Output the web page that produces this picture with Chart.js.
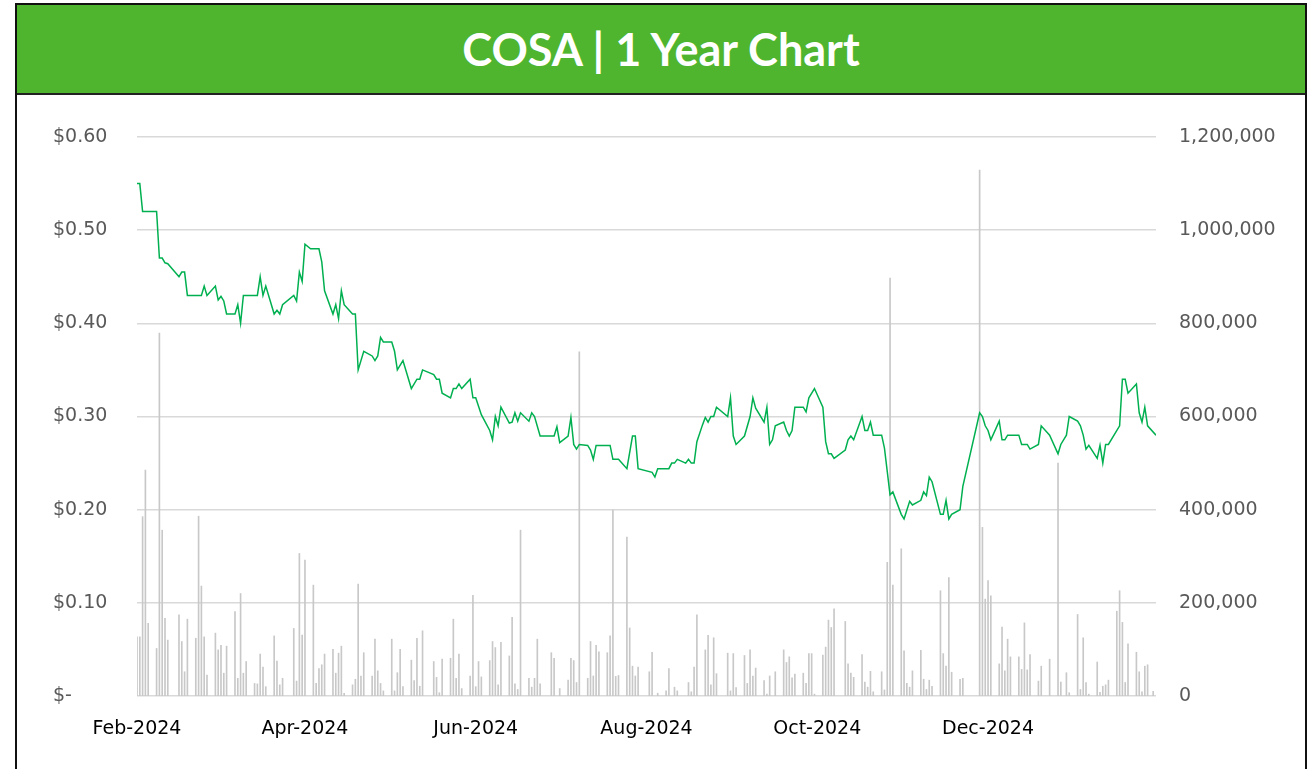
<!DOCTYPE html>
<html>
<head>
<meta charset="utf-8">
<script src="https://cdn.jsdelivr.net/npm/chart.js@4.4.1/dist/chart.umd.min.js"></script>
<style>
  html, body { margin: 0; padding: 0; background: #fff; }
  #wrap { position: relative; width: 1312px; height: 769px; overflow: hidden; }
  #chart { position: absolute; left: 0; top: 0; }
  #frame {
    position: absolute; left: 15px; top: 3px; width: 1292px; height: 800px;
    box-sizing: border-box; border: 2px solid #111; pointer-events: none;
  }
  #header {
    height: 90px; box-sizing: border-box; background: #4fb52e;
    border-bottom: 2px solid #222; color: #fff;
    font-family: Lato, "Noto Sans", sans-serif; font-weight: 700; font-size: 45px;
    line-height: 88px; text-align: center;
  }
</style>
</head>
<body>
<div id="wrap">
  <canvas id="chart" width="1312" height="769"></canvas>
  <div id="frame"><div id="header">COSA | 1 Year Chart</div></div>
</div>
<script>
  // day offsets are counted from 1 Feb 2024
  const xTickLabels = ['Feb-2024', 'Apr-2024', 'Jun-2024', 'Aug-2024', 'Oct-2024', 'Dec-2024'];

  // closing price, read at the turning points of the line
  const priceDays = [
    0, 1, 2, 7, 8, 9, 10, 11, 15, 16, 17, 18, 23, 24, 25, 28, 29, 30, 31, 32,
    35, 36, 37, 38, 43, 44, 45, 46, 49, 50, 51, 52, 56, 57, 58, 59, 60, 62, 65, 66,
    67, 70, 71, 72, 73, 74, 77, 78, 79, 81, 84, 85, 86, 87, 88, 91, 92, 93, 95, 98,
    100, 101, 102, 106, 107, 108, 109, 112, 113, 114, 115, 116, 119, 120, 121, 123, 126, 127, 128, 129,
    130, 133, 134, 135, 136, 137, 140, 141, 142, 144, 149, 150, 151, 154, 155, 156, 157, 158, 161, 162,
    163, 164, 169, 170, 172, 175, 177, 178, 179, 184, 185, 186, 190, 191, 192, 193, 196, 197, 198, 199,
    200, 202, 203, 204, 205, 206, 207, 211, 212, 213, 214, 217, 219, 220, 221, 224, 225, 226, 227, 228,
    231, 232, 233, 234, 235, 238, 239, 240, 242, 245, 246, 247, 248, 249, 253, 254, 255, 256, 259, 260,
    261, 262, 263, 266, 267, 269, 270, 273, 274, 276, 277, 280, 281, 282, 283, 284, 287, 288, 289, 290,
    291, 294, 295, 301, 302, 303, 304, 305, 308, 309, 310, 311, 315, 316, 318, 319, 322, 323, 326, 329,
    330, 332, 333, 336, 337, 338, 339, 340, 343, 344, 345, 346, 347, 351, 352, 353, 354, 357, 358, 359,
    360, 361, 364
  ];
  const priceValues = [
    0.550, 0.550, 0.520, 0.520, 0.470, 0.470, 0.465, 0.464, 0.450, 0.455, 0.455, 0.430, 0.430, 0.440, 0.430, 0.440, 0.425, 0.429, 0.424, 0.410,
    0.410, 0.420, 0.400, 0.430, 0.430, 0.450, 0.430, 0.440, 0.410, 0.414, 0.410, 0.420, 0.430, 0.424, 0.455, 0.445, 0.485, 0.480, 0.480, 0.466,
    0.435, 0.410, 0.420, 0.405, 0.435, 0.420, 0.410, 0.410, 0.350, 0.370, 0.365, 0.360, 0.365, 0.385, 0.380, 0.380, 0.370, 0.350, 0.360, 0.330,
    0.340, 0.340, 0.350, 0.345, 0.340, 0.340, 0.325, 0.320, 0.330, 0.330, 0.335, 0.330, 0.340, 0.320, 0.320, 0.302, 0.285, 0.275, 0.300, 0.290,
    0.310, 0.293, 0.294, 0.304, 0.295, 0.304, 0.295, 0.304, 0.300, 0.279, 0.279, 0.289, 0.272, 0.279, 0.299, 0.270, 0.265, 0.270, 0.269, 0.264,
    0.254, 0.269, 0.269, 0.254, 0.254, 0.244, 0.279, 0.279, 0.244, 0.240, 0.235, 0.244, 0.244, 0.250, 0.250, 0.254, 0.250, 0.254, 0.250, 0.250,
    0.273, 0.291, 0.299, 0.294, 0.300, 0.300, 0.310, 0.300, 0.320, 0.279, 0.270, 0.279, 0.300, 0.320, 0.309, 0.294, 0.310, 0.270, 0.275, 0.290,
    0.294, 0.285, 0.279, 0.285, 0.310, 0.310, 0.305, 0.320, 0.330, 0.310, 0.273, 0.260, 0.260, 0.255, 0.264, 0.275, 0.279, 0.275, 0.300, 0.285,
    0.285, 0.294, 0.280, 0.280, 0.266, 0.216, 0.219, 0.195, 0.190, 0.209, 0.205, 0.210, 0.219, 0.215, 0.235, 0.230, 0.195, 0.195, 0.210, 0.190,
    0.195, 0.200, 0.225, 0.304, 0.300, 0.290, 0.285, 0.275, 0.295, 0.275, 0.275, 0.280, 0.280, 0.270, 0.270, 0.265, 0.270, 0.290, 0.280, 0.260,
    0.270, 0.280, 0.300, 0.295, 0.290, 0.280, 0.265, 0.269, 0.255, 0.269, 0.250, 0.270, 0.270, 0.290, 0.340, 0.340, 0.325, 0.335, 0.304, 0.294,
    0.310, 0.290, 0.280
  ];

  // daily volume (shares)
  const volumeDays = [
    0, 1, 2, 3, 4, 7, 8, 9, 10, 11, 15, 16, 17, 18, 21, 22, 23, 24, 25, 28,
    29, 30, 31, 32, 35, 36, 37, 38, 39, 42, 43, 44, 45, 46, 49, 50, 51, 52, 56, 57,
    58, 59, 60, 63, 64, 65, 66, 67, 70, 71, 72, 73, 74, 77, 78, 79, 80, 81, 84, 85,
    86, 87, 88, 91, 92, 93, 94, 95, 98, 99, 100, 101, 102, 106, 107, 108, 109, 112, 113, 114,
    115, 116, 119, 120, 121, 122, 123, 126, 127, 128, 129, 130, 133, 134, 135, 136, 137, 140, 141, 142,
    143, 144, 148, 149, 151, 154, 155, 156, 157, 158, 161, 162, 163, 164, 165, 168, 169, 170, 171, 172,
    175, 176, 177, 178, 179, 183, 184, 186, 189, 190, 192, 193, 197, 198, 199, 200, 203, 204, 205, 206,
    207, 211, 212, 213, 214, 217, 218, 219, 220, 221, 224, 225, 226, 228, 231, 232, 233, 234, 235, 238,
    239, 240, 241, 242, 245, 246, 247, 248, 249, 253, 254, 255, 256, 259, 260, 261, 262, 263, 266, 267,
    268, 269, 270, 273, 274, 275, 276, 277, 280, 281, 282, 283, 284, 287, 288, 289, 290, 291, 294, 295,
    301, 302, 303, 304, 305, 308, 309, 310, 311, 312, 315, 316, 317, 318, 319, 322, 323, 326, 329, 330,
    332, 333, 336, 337, 338, 339, 340, 343, 344, 345, 346, 347, 350, 351, 352, 353, 354, 357, 358, 359,
    360, 361, 363
  ];
  const volumeValues = [
    127000, 127000, 385000, 485000, 156000, 102000, 779000, 356000, 167000, 120000, 174000, 117000, 52000, 165000, 124000, 386000, 236000, 127000, 45000, 135000,
    99000, 109000, 49000, 107000, 181000, 38000, 220000, 49000, 74000, 27000, 26000, 90000, 62000, 20000, 129000, 75000, 24000, 38000, 145000, 32000,
    306000, 131000, 292000, 238000, 27000, 59000, 67000, 90000, 100000, 49000, 92000, 107000, 6000, 24000, 36000, 240000, 43000, 93000, 43000, 122000,
    54000, 27000, 11000, 122000, 11000, 50000, 100000, 20000, 77000, 33000, 124000, 21000, 140000, 74000, 40000, 7000, 79000, 81000, 165000, 38000,
    90000, 16000, 43000, 216000, 20000, 74000, 41000, 76000, 117000, 104000, 24000, 115000, 86000, 169000, 26000, 14000, 356000, 38000, 19000, 38000,
    122000, 26000, 93000, 81000, 16000, 34000, 81000, 76000, 29000, 739000, 38000, 117000, 43000, 109000, 95000, 93000, 129000, 399000, 42000, 44000,
    341000, 146000, 64000, 43000, 62000, 52000, 94000, 6000, 11000, 59000, 19000, 11000, 29000, 9000, 62000, 174000, 99000, 130000, 24000, 125000,
    48000, 92000, 11000, 91000, 18000, 87000, 27000, 99000, 43000, 60000, 33000, 4000, 43000, 52000, 99000, 72000, 84000, 39000, 47000, 49000,
    27000, 91000, 91000, 4000, 88000, 105000, 163000, 147000, 187000, 160000, 69000, 49000, 40000, 89000, 30000, 19000, 53000, 9000, 52000, 13000,
    287000, 897000, 238000, 316000, 97000, 27000, 19000, 54000, 98000, 36000, 14000, 34000, 21000, 226000, 91000, 64000, 254000, 51000, 36000, 38000,
    1129000, 362000, 208000, 248000, 215000, 69000, 148000, 54000, 122000, 84000, 84000, 57000, 157000, 56000, 89000, 32000, 64000, 79000, 500000, 30000,
    50000, 7000, 175000, 14000, 125000, 29000, 4000, 73000, 8000, 21000, 24000, 34000, 182000, 226000, 158000, 29000, 112000, 94000, 52000, 9000,
    64000, 67000, 10000
  ];

  const dayZero = new Date(2024, 1, 1);
  const xTickDays = xTickLabels.map(function (lbl) {
    const months = { Feb: 1, Apr: 3, Jun: 5, Aug: 7, Oct: 9, Dec: 11 };
    const d = new Date(+lbl.slice(4), months[lbl.slice(0, 3)], 1);
    return Math.round((d - dayZero) / 864e5);
  });

  const tickFont = { family: '"DejaVu Sans", sans-serif', size: 19 };

  new Chart(document.getElementById('chart'), {
    data: {
      datasets: [
        {
          type: 'line',
          label: 'Price',
          data: priceDays.map((d, i) => ({ x: d, y: priceValues[i] })),
          yAxisID: 'y',
          borderColor: '#00b050',
          borderWidth: 1.5,
          pointRadius: 0,
          tension: 0,
          order: 0
        },
        {
          type: 'bar',
          label: 'Volume',
          data: volumeDays.map((d, i) => ({ x: d, y: volumeValues[i] })),
          yAxisID: 'y1',
          backgroundColor: '#c8c8c8',
          barThickness: 1,
          order: 1
        }
      ]
    },
    options: {
      responsive: false,
      animation: false,
      devicePixelRatio: 1,
      layout: { padding: { left: 53, top: 137, right: 0, bottom: 0 } },
      plugins: { legend: { display: false }, tooltip: { enabled: false }, title: { display: false } },
      scales: {
        x: {
          type: 'linear',
          min: 0,
          max: 364,
          offset: false,
          grid: { display: false, drawTicks: false },
          border: { display: false },
          afterBuildTicks: function (scale) {
            scale.ticks = xTickDays.map(v => ({ value: v }));
          },
          afterFit: function (scale) { scale.height = 73; },
          ticks: {
            autoSkip: false,
            maxRotation: 0,
            padding: 22,
            color: '#000',
            font: tickFont,
            callback: function (value, index) { return xTickLabels[index]; }
          }
        },
        y: {
          position: 'left',
          min: 0,
          max: 0.6,
          grid: { color: '#d9d9d9', lineWidth: 1.5, drawTicks: false },
          border: { display: false },
          afterFit: function (scale) { scale.width = 84; },
          ticks: {
            stepSize: 0.1,
            crossAlign: 'far',
            color: '#595959',
            font: tickFont,
            callback: function (v) { return v === 0 ? '$-' : '$' + v.toFixed(2); }
          }
        },
        y1: {
          position: 'right',
          min: 0,
          max: 1200000,
          grid: { display: false, drawTicks: false },
          border: { display: false },
          afterFit: function (scale) { scale.width = 156; },
          ticks: {
            stepSize: 200000,
            padding: 23,
            color: '#595959',
            font: tickFont,
            callback: function (v) { return v.toLocaleString('en-US'); }
          }
        }
      }
    }
  });
</script>
</body>
</html>
